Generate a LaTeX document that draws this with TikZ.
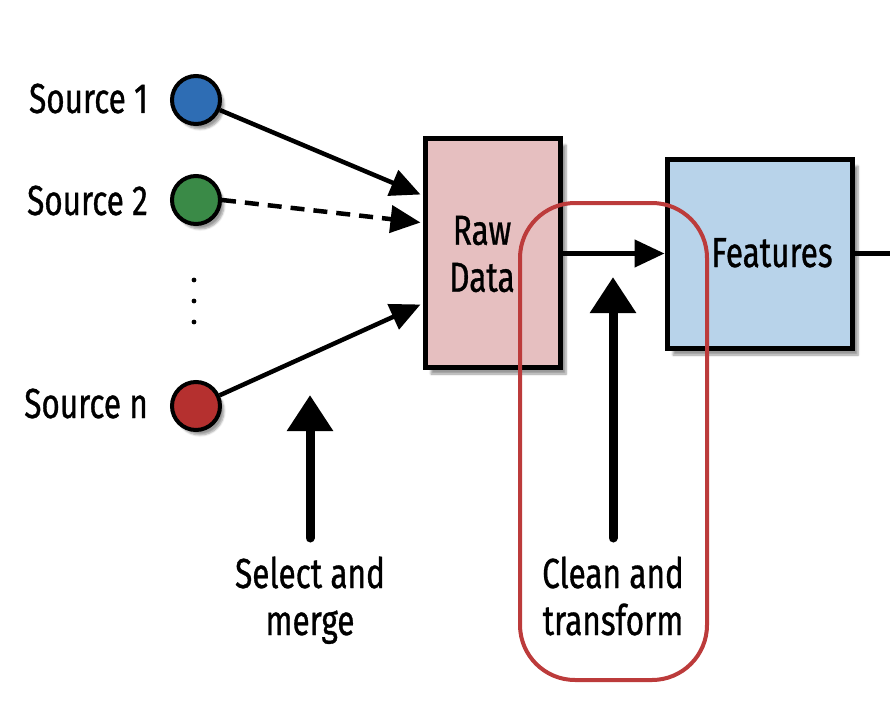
\documentclass[tikz,border=0pt]{standalone}
\usepackage{fontspec}
\setmainfont{Fira Sans}[FakeStretch=0.75,FakeBold=0.8]
\usetikzlibrary{arrows.meta,shadows.blur,calc}
\definecolor{srcblue}{HTML}{2E6DB4}
\definecolor{srcgreen}{HTML}{3A8A47}
\definecolor{srcred}{HTML}{B5302F}
\definecolor{rawpink}{HTML}{E6BFC0}
\definecolor{featblue}{HTML}{B8D3EA}
\definecolor{loopred}{HTML}{BC3B3B}
\tikzset{
  srccircle/.style={circle,draw=black,line width=4pt,minimum size=48pt,inner sep=0pt,
    blur shadow={shadow xshift=4pt,shadow yshift=-5pt,shadow blur steps=6,shadow opacity=40}},
  stagebox/.style={draw=black,line width=5pt,inner sep=0pt,
    blur shadow={shadow xshift=6pt,shadow yshift=-7pt,shadow blur steps=6,shadow opacity=40}},
  lbl/.style={font=\fontsize{42}{47}\selectfont,inner sep=0pt,align=center},
  conn/.style={line width=4.5pt,-{Triangle[length=30pt,width=27pt]}},
  bigarrow/.style={line width=9pt,-{Triangle[length=36pt,width=44pt]}},
}
\begin{document}
\begin{tikzpicture}[x=1pt,y=-1pt]
\useasboundingbox (0,0) rectangle (890,706);
% boxes
\node[stagebox,fill=rawpink,minimum width=135pt,minimum height=229pt] (raw) at (492.5,252.5) {};
\node[stagebox,fill=featblue,minimum width=185pt,minimum height=189pt] (feat) at (759.5,253.5) {};
\node[lbl] (rawtxt) at (482,254) {Raw\\Data};
\node[lbl,anchor=base] (feattxt) at (772,267) {Features};
% sources
\node[srccircle,fill=srcblue] (s1) at (196,100) {};
\node[srccircle,fill=srcgreen] (s2) at (196,200) {};
\node[srccircle,fill=srcred] (sn) at (196,406) {};
\node[lbl,anchor=base east] (l1) at (148,113) {Source 1};
\node[lbl,anchor=base east] (l2) at (148,215) {Source 2};
\node[lbl,anchor=base east] (ln) at (148,418) {Source n};
\fill (194,280) circle (2.4pt) (194,301) circle (2.4pt) (194,322) circle (2.4pt);
% connectors
\coordinate (in1) at ($(raw.north west)+(-2,59)$);
\coordinate (in2) at ($(raw.north west)+(-2,87)$);
\coordinate (inn) at ($(raw.north west)+(-2,169)$);
\draw[conn] (s1) -- (in1);
\draw[conn,dash pattern=on 14pt off 9pt] (s2.east) -- (in2);
\draw[conn] (sn) -- (inn);
\draw[conn] (raw.east |- feat.west) -- (feat.west);
\coordinate (outr) at (890,253.5);
\draw[line width=4.5pt] (feat.east) -- (outr);
% big arrows
\coordinate (selbot) at (310,538);
\coordinate (seltip) at (310,395);
\coordinate (clnbot) at (613,538);
\coordinate (clntip) at (613,277);
\draw[bigarrow,line cap=round] (selbot) -- (seltip);
\draw[bigarrow,line cap=round] (clnbot) -- (clntip);
\node[lbl,anchor=base] (seltxt) at (310,635) {Select and\\merge};
\node[lbl,anchor=base] (clntxt) at (613,635) {Clean and\\transform};
% loop
\draw[loopred,line width=4pt,rounded corners=55pt] (520,203) rectangle (707,680);
\end{tikzpicture}
\end{document}
